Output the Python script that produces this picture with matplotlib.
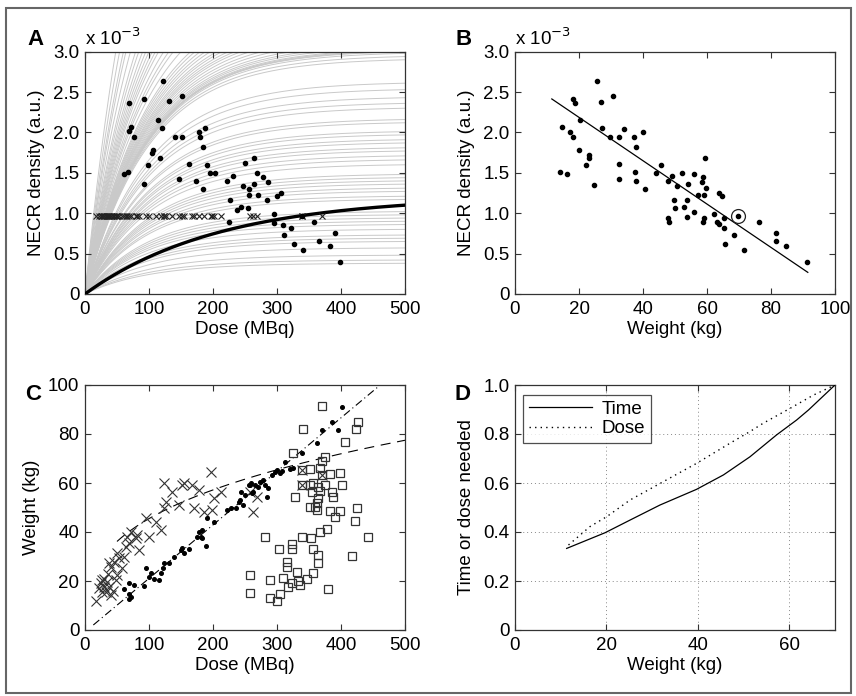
import numpy as np
import matplotlib
matplotlib.use('Agg')
import matplotlib.pyplot as plt
from matplotlib.patches import Rectangle

plt.rcParams['font.family'] = ['Liberation Sans', 'DejaVu Sans']

# ---------------- Panel A data (NECR density x1e-3 vs dose) ----------------
a_dose = [122, 68, 92, 132, 151, 114, 72, 68, 77, 121, 178, 188, 140, 152, 179,
          106, 104, 185, 117, 98, 162, 190, 61, 67, 196, 203, 147, 174, 92, 184,
          264, 250, 222, 231, 269, 278, 286, 247, 264, 257, 270, 256, 306, 300, 284,
          227, 244, 238, 254, 225, 295, 295, 310, 322, 311, 358, 391, 327, 340, 366,
          383, 398, 339]
a_necr = [2.64, 2.37, 2.42, 2.39, 2.45, 2.16, 2.07, 2.02, 1.94, 2.05, 2.01, 2.05, 1.94, 1.94, 1.94,
          1.78, 1.74, 1.82, 1.69, 1.60, 1.61, 1.60, 1.49, 1.51, 1.50, 1.50, 1.43, 1.40, 1.36, 1.30,
          1.69, 1.62, 1.40, 1.46, 1.50, 1.45, 1.39, 1.34, 1.36, 1.30, 1.22, 1.23, 1.25, 1.21, 1.17,
          1.16, 1.08, 1.04, 1.06, 0.89, 0.99, 0.88, 0.85, 0.82, 0.73, 0.89, 0.75, 0.62, 0.54, 0.66,
          0.60, 0.40, 0.97]
# gray model curves: doses where curves leave the top (3.0), and values at 500 MBq
gray_exit_dose = [48, 54, 60, 64, 71, 79, 84, 90, 95, 100, 105, 110, 115, 123, 131, 138,
                  150, 165, 172, 180, 188, 196, 206, 214, 224, 234, 244, 258, 276, 296,
                  322, 348, 375, 415, 442, 468, 493]
gray_end_necr = [2.98, 2.94, 2.90, 2.61, 2.53, 2.43, 2.36, 2.30, 2.16, 2.12, 2.01, 1.97,
                 1.91, 1.87, 1.81, 1.77, 1.71, 1.66, 1.60, 1.48, 1.44, 1.40, 1.36, 1.31,
                 1.27, 1.21, 1.17, 1.02, 0.98, 0.94, 0.90, 0.86, 0.80, 0.73, 0.69, 0.65,
                 0.57, 0.48, 0.42, 0.38]
gray_tau = 100.0
ref_amp, ref_tau = 1.212, 210.0
target_necr = 0.97

# ---------------- Panel B data ----------------
b_weight = [25.5, 18.0, 18.9, 26.9, 30.5, 20.3, 14.6, 17.2, 18.2, 27.1, 34.1, 39.9, 29.7, 32.6, 37.2,
            20.0, 23.1, 23.1, 37.8, 22.1, 32.5, 45.6, 14.1, 16.4, 37.5, 44.1, 24.7, 32.4, 37.8, 40.7,
            47.9, 49.2, 52.3, 50.5, 55.9, 58.9, 58.3, 59.4, 54.0, 57.3, 59.1, 59.6, 63.8, 64.7, 49.7,
            53.6, 49.9, 52.8, 56.0, 53.9, 47.9, 48.0, 59.2, 58.6, 62.1, 63.1, 63.6, 65.2, 65.3, 68.4,
            65.7, 71.7, 76.3, 81.6, 81.6, 84.7, 91.1, 69.8]
b_necr = [2.64, 2.42, 2.37, 2.38, 2.45, 2.16, 2.07, 2.01, 1.94, 2.05, 2.04, 2.01, 1.95, 1.95, 1.94,
          1.78, 1.72, 1.69, 1.82, 1.60, 1.61, 1.60, 1.51, 1.49, 1.51, 1.50, 1.35, 1.43, 1.40, 1.30,
          1.40, 1.46, 1.50, 1.34, 1.49, 1.45, 1.39, 1.69, 1.36, 1.22, 1.23, 1.31, 1.25, 1.21, 1.16,
          1.16, 1.06, 1.08, 1.01, 0.95, 0.94, 0.89, 0.94, 0.89, 0.99, 0.89, 0.87, 0.94, 0.82, 0.73,
          0.62, 0.54, 0.89, 0.75, 0.66, 0.60, 0.40, 0.97]
b_fit_weight = [11.5, 91.5]
b_fit_necr = [2.415, 0.268]
ref_weight, ref_necr = 69.8, 0.968

# ---------------- Panel C data ----------------
c_dot_dose = [68.75, 60.9, 68.75, 68.75, 71.4, 76.6, 92.2, 94.8, 102.6, 100, 108.3, 116.1, 118.8, 123.9, 132,
              121.4, 139.1, 149.5, 154.7, 162.5, 152.1, 175.5, 178.1, 183.3, 180.7, 183.3, 188.5, 191.1, 201.6, 222.4,
              227.6, 235.4, 240.6, 243.2, 256.2, 258.9, 261.5, 242.2, 247.4, 250, 257.8, 265.6, 263, 271, 273.4,
              278.6, 281.3, 286.5, 283.9, 291.7, 296.9, 299.5, 304.7, 307.3, 312.5, 320.3, 325.5, 338.5, 361.9, 369.8,
              385.4, 395.8, 401]
c_dot_weight = [19.0, 16.6, 14.7, 12.5, 13.6, 18.5, 18.0, 25.4, 23.1, 21.8, 20.7, 20.4, 23.1, 27.2, 27.2,
                25.2, 29.9, 32.7, 31.3, 32.9, 33.6, 38.1, 40.1, 40.8, 38.1, 37.4, 34.3, 45.6, 44.2, 49.0,
                49.7, 49.7, 52.4, 56.4, 59.2, 59.9, 55.8, 53.1, 51.0, 55.1, 59.2, 59.2, 56.4, 58.5, 60.5,
                61.2, 59.2, 57.8, 54.4, 63.3, 64.6, 65.3, 63.9, 64.9, 68.7, 65.7, 66.0, 72.1, 76.2, 81.6,
                84.9, 81.6, 91.2]
c_x_dose = [16.7, 24.5, 29.7, 32.3, 34.9, 27.1, 40.1, 37.5, 47.9, 50.5, 22.0, 30.0, 44.0, 26.0, 36.0,
            58.3, 40.1, 37.5, 45.3, 53.1, 50.5, 60.9, 63.6, 68.8, 66.1, 71.4, 79.2, 81.7, 84.4, 100.0,
            94.8, 110.5, 118.3, 123.4, 126.0, 123.4, 136.4, 146.9, 152.0, 154.7, 167.7, 178.1, 170.3, 185.9, 198.9,
            196.4, 212.0, 201.6, 257.8, 263.0, 268.0, 338.5, 338.5, 369.8]
c_x_weight = [11.8, 19.0, 17.7, 15.6, 19.7, 20.4, 14.3, 17.7, 20.4, 22.4, 17.0, 21.0, 16.0, 15.5, 23.0,
              25.2, 25.8, 27.2, 27.9, 29.3, 31.3, 29.9, 34.0, 35.4, 38.1, 40.1, 37.4, 38.8, 32.7, 38.1,
              45.6, 44.2, 40.8, 49.7, 52.4, 59.9, 56.4, 51.0, 59.2, 59.9, 59.2, 57.1, 49.7, 48.3, 49.0,
              64.6, 56.4, 53.7, 56.4, 48.3, 54.4, 65.3, 59.2, 63.3]
c_sq_dose = [369.8, 341.1, 423.4, 427.3, 406.3, 325.5, 369.8, 375.0, 367.2, 351.6, 382.8, 398.4, 369.8, 338.5, 338.5,
             351.6, 356.8, 364.6, 375.0, 401.0, 354.2, 367.2, 385.4, 388.0, 328.1, 364.6, 362.0, 359.4, 351.6, 362.0,
             382.8, 398.4, 424.5, 390.6, 421.9, 367.2, 378.6, 442.7, 281.3, 338.5, 352.9, 303.4, 324.2, 324.2, 355.5,
             363.3, 416.9, 315.6, 315.6, 364.6, 332.0, 355.5, 257.8, 289.1, 309.9, 322.9, 333.3, 336.0, 346.4, 317.0,
             380.2, 257.8, 289.1, 304.7, 299.5]
c_sq_weight = [91.6, 81.9, 81.9, 85.0, 76.6, 72.1, 69.0, 70.7, 66.0, 65.7, 63.5, 64.0, 63.3, 65.3, 59.2,
               59.2, 59.9, 58.5, 59.2, 59.2, 56.5, 56.7, 56.2, 54.4, 54.4, 53.7, 51.7, 50.3, 50.3, 49.0,
               48.6, 48.6, 50.0, 46.3, 44.5, 40.1, 41.1, 38.1, 38.1, 37.8, 37.4, 33.0, 35.0, 33.0, 33.0,
               30.8, 30.2, 27.9, 25.9, 27.5, 23.5, 23.4, 22.4, 20.4, 21.1, 19.3, 19.8, 18.4, 20.7, 17.7,
               16.9, 15.0, 12.9, 14.6, 11.8]
c_lin_slope, c_lin_int = 0.2185, -0.8       # weight = slope*dose + int (dash-dot)
c_pow_k, c_pow_p = 9.9, 0.331               # weight = k*dose**p (dashed)

# ---------------- Panel D data ----------------
d_time_w = [11.3, 19.7, 25.2, 31.7, 39.7, 45.6, 51.4, 57.2, 61.6, 64.2, 70.0]
d_time_v = [0.333, 0.397, 0.449, 0.510, 0.574, 0.633, 0.707, 0.796, 0.857, 0.898, 1.0]
d_dose_w = [11.7, 16.4, 20.1, 25.2, 32.4, 39.7, 47.0, 51.4, 54.3, 60.2, 65.3, 70.0]
d_dose_v = [0.347, 0.422, 0.463, 0.531, 0.605, 0.680, 0.762, 0.810, 0.844, 0.905, 0.959, 1.0]

# ---------------- figure ----------------
W, H = 856, 696
fig = plt.figure(figsize=(W / 100, H / 100), dpi=100)

def axpix(x0, y0, x1, y1):
    return fig.add_axes([x0 / W, 1 - y1 / H, (x1 - x0) / W, (y1 - y0) / H])

axA = axpix(85, 51.7, 405, 294)
axB = axpix(515, 51.7, 835, 294)
axC = axpix(85, 385, 405, 630)
axD = axpix(515, 385, 835, 630)

FS = 13.5
EDGE = '#333333'

def style(ax):
    for s in ax.spines.values():
        s.set_color(EDGE)
        s.set_linewidth(0.9)
    ax.tick_params(direction='in', top=True, right=True, length=4, width=0.8,
                   color=EDGE, labelsize=FS)
    ax.tick_params(axis='x', pad=5)
    ax.tick_params(axis='y', pad=4)

# Panel A
D = np.linspace(0, 500, 400)
for d3 in gray_exit_dose:
    amp = 3.0 / (1 - np.exp(-d3 / gray_tau))
    axA.plot(D, amp * (1 - np.exp(-D / gray_tau)), color='#c9c9c9', lw=0.7, zorder=1)
for e in gray_end_necr:
    amp = e / (1 - np.exp(-500 / gray_tau))
    axA.plot(D, amp * (1 - np.exp(-D / gray_tau)), color='#c9c9c9', lw=0.7, zorder=1)
axA.plot(D, ref_amp * (1 - np.exp(-D / ref_tau)), color='black', lw=2.4, zorder=3)
axA.plot(c_x_dose, [target_necr] * len(c_x_dose), ls='none', marker='x', ms=5,
         mew=0.8, color='#222222', zorder=4)
axA.plot(a_dose, a_necr, ls='none', marker='o', ms=3.0, color='black', zorder=5)
axA.set_xlim(0, 500)
axA.set_ylim(0, 3.0)
axA.set_xticks([0, 100, 200, 300, 400, 500])
axA.set_yticks([0, 0.5, 1.0, 1.5, 2.0, 2.5, 3.0])
axA.set_yticklabels(['0', '0.5', '1.0', '1.5', '2.0', '2.5', '3.0'])
axA.set_xlabel('Dose (MBq)', fontsize=FS, labelpad=2)
axA.set_ylabel('NECR density (a.u.)', fontsize=FS, labelpad=6)
style(axA)

# Panel B
axB.plot(b_fit_weight, b_fit_necr, color='black', lw=0.9, zorder=2)
axB.plot(b_weight, b_necr, ls='none', marker='o', ms=3.0, color='black', zorder=3)
axB.plot([ref_weight], [ref_necr], ls='none', marker='o', ms=10, mfc='none',
         mec='#222222', mew=0.9, zorder=4)
axB.set_xlim(0, 100)
axB.set_ylim(0, 3.0)
axB.set_xticks([0, 20, 40, 60, 80, 100])
axB.set_yticks([0, 0.5, 1.0, 1.5, 2.0, 2.5, 3.0])
axB.set_yticklabels(['0', '0.5', '1.0', '1.5', '2.0', '2.5', '3.0'])
axB.set_xlabel('Weight (kg)', fontsize=FS, labelpad=2)
axB.set_ylabel('NECR density (a.u.)', fontsize=FS, labelpad=6)
style(axB)

# Panel C
xl = np.array([13.0, 480.0])
axC.plot(xl, c_lin_slope * xl + c_lin_int, color='black', lw=0.8,
         ls=(0, (7, 3, 1, 3)), zorder=2)
xp = np.linspace(50, 500, 200)
axC.plot(xp, c_pow_k * xp ** c_pow_p, color='black', lw=0.8, ls=(0, (9, 6)), zorder=2)
axC.plot(c_sq_dose, c_sq_weight, ls='none', marker='s', ms=6, mfc='none',
         mec='#333333', mew=0.9, zorder=3)
axC.plot(c_x_dose, c_x_weight, ls='none', marker='x', ms=7.5, mew=0.8,
         color='#333333', zorder=4)
axC.plot(c_dot_dose, c_dot_weight, ls='none', marker='o', ms=2.6, color='black', zorder=5)
axC.set_xlim(0, 500)
axC.set_ylim(0, 100)
axC.set_xticks([0, 100, 200, 300, 400, 500])
axC.set_yticks([0, 20, 40, 60, 80, 100])
axC.set_xlabel('Dose (MBq)', fontsize=FS, labelpad=2)
axC.set_ylabel('Weight (kg)', fontsize=FS, labelpad=6)
style(axC)

# Panel D
axD.plot(d_time_w, d_time_v, color='black', lw=0.9, label='Time', zorder=3)
axD.plot(d_dose_w, d_dose_v, color='black', lw=1.0, ls=(0, (1, 3)), label='Dose', zorder=3)
axD.set_xlim(0, 70)
axD.set_ylim(0, 1.0)
axD.set_xticks([0, 20, 40, 60])
axD.set_yticks([0, 0.2, 0.4, 0.6, 0.8, 1.0])
axD.set_yticklabels(['0', '0.2', '0.4', '0.6', '0.8', '1.0'])
for gx in [20, 40, 60]:
    axD.axvline(gx, color='#888888', lw=0.7, ls=(0, (1, 3)), zorder=1)
for gy in [0.2, 0.4, 0.6, 0.8]:
    axD.axhline(gy, color='#888888', lw=0.7, ls=(0, (1, 3)), zorder=1)
axD.set_xlabel('Weight (kg)', fontsize=FS, labelpad=2)
axD.set_ylabel('Time or dose needed', fontsize=FS, labelpad=6)
leg = axD.legend(loc='upper left', bbox_to_anchor=(0.025, 0.96), fontsize=FS,
                 frameon=True, fancybox=False, handlelength=3.4, borderpad=0.3,
                 labelspacing=0.15, handletextpad=0.5, borderaxespad=0)
leg.get_frame().set_edgecolor('#222222')
leg.get_frame().set_linewidth(0.9)
style(axD)

# panel letters and exponent labels
for lx, ly, t in [(27, 45, 'A'), (456, 45, 'B'), (25, 400, 'C'), (455, 400, 'D')]:
    fig.text(lx / W, 1 - ly / H, t, fontsize=16, fontweight='bold', ha='left', va='baseline')
for ex in [85, 515]:
    fig.text(ex / W, 1 - 45 / H, r'x 10$^{-3}$', fontsize=FS, ha='left', va='baseline')

fig.add_artist(Rectangle((6 / W, 3 / H), 845 / W, 685 / H, transform=fig.transFigure,
                         fill=False, ec='#666666', lw=1.5))

fig.savefig('out.png', dpi=100)
